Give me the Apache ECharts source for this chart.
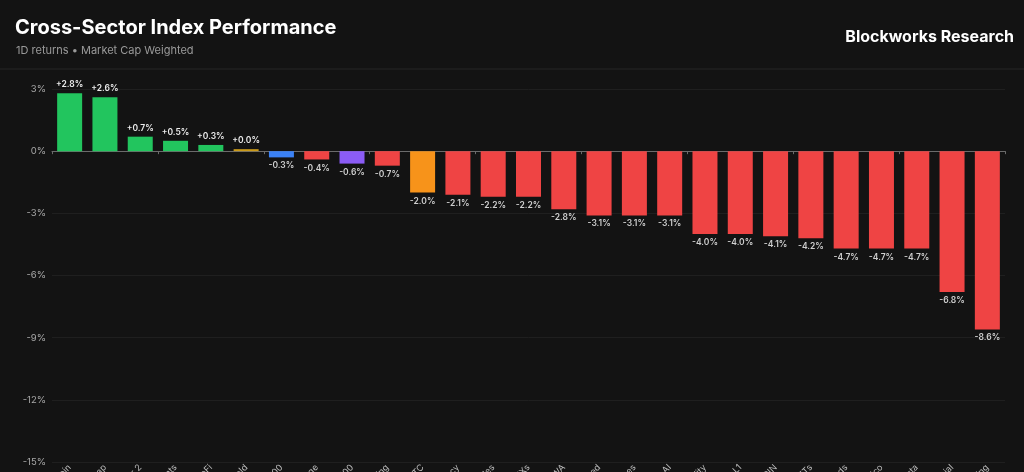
<!DOCTYPE html>
<html>
<head>
<meta charset="utf-8">
<script src="https://cdn.jsdelivr.net/npm/echarts@6/dist/echarts.min.js"></script>
<style>
html,body{margin:0;padding:0;background:#131313;}
#c{width:1024px;height:472px;}
</style>
</head>
<body>
<div id="c"></div>
<script>
const categories = ["Privacy Coin","Large Cap","Layer 2","Payments","DeFi","Gold","S&P 500","Storage","Nasdaq 100","Liquid Staking","BTC","Privacy","Oracles","DEXs","RWA","Restaked","Memes","AI","Interoperability","Alt L1","DePIN","NFTs","Launchpads","Solana Eco","Data","Social","Gaming"];
const values = [2.8,2.6,0.7,0.5,0.3,0.04,-0.3,-0.4,-0.6,-0.7,-2.0,-2.1,-2.2,-2.2,-2.8,-3.1,-3.1,-3.1,-4.0,-4.0,-4.1,-4.2,-4.7,-4.7,-4.7,-6.8,-8.6];
const barColors = ["#22c55e","#22c55e","#22c55e","#22c55e","#22c55e","#ca9a1a","#3b82f6","#ef4444","#8b5cf6","#ef4444","#f7931a","#ef4444","#ef4444","#ef4444","#ef4444","#ef4444","#ef4444","#ef4444","#ef4444","#ef4444","#ef4444","#ef4444","#ef4444","#ef4444","#ef4444","#ef4444","#ef4444"];
const yTicks = {min:-15, max:3, interval:3};

const chart = echarts.init(document.getElementById('c'), null, {renderer:'canvas'});
const fmt = v => (v >= 0 ? '+' : '') + v.toFixed(1) + '%';
chart.setOption({
  backgroundColor:'#131313',
  animation:false,
  title:[
    {text:'Cross-Sector Index Performance', left:10, top:13,
     textStyle:{color:'#ffffff', fontSize:20, fontWeight:'bold', fontFamily:'Inter'}},
    {text:'1D returns • Market Cap Weighted', left:11, top:40,
     textStyle:{color:'#9a9a9a', fontSize:11, fontWeight:'normal', fontFamily:'Inter'}},
    {text:'Blockworks Research', right:5, top:24,
     textStyle:{color:'#ffffff', fontSize:16, fontWeight:'bold', fontFamily:'Inter'}}
  ],
  graphic:[{type:'line', shape:{x1:0,y1:69,x2:1024,y2:69}, style:{stroke:'#262626', lineWidth:1}}],
  grid:{left:52, right:19, top:89, bottom:10, containLabel:false, outerBoundsMode:'none'},
  xAxis:[
    {type:'category', data:categories, position:'bottom',
     axisLine:{show:true, onZero:true, lineStyle:{color:'#6b6b6b', width:1}},
     axisTick:{show:true, length:3, lineStyle:{color:'#6b6b6b'}},
     axisLabel:{show:false}, splitLine:{show:false}},
    {type:'category', data:categories, position:'bottom',
     axisLine:{show:false, onZero:false}, axisTick:{show:false},
     axisLabel:{show:true, rotate:45, margin:4, color:'#bdbdbd', fontSize:9, fontFamily:'Inter', interval:0}}
  ],
  yAxis:{type:'value', min:yTicks.min, max:yTicks.max, interval:yTicks.interval,
    axisLine:{show:false}, axisTick:{show:false},
    axisLabel:{formatter:'{value}%', color:'#a8a8a8', fontSize:9.5, fontFamily:'Inter', margin:6},
    splitLine:{show:true, lineStyle:{color:'#1f1f1f', width:1}}},
  series:[{
    type:'bar', xAxisIndex:0, barWidth:25, barMinHeight:2,
    data:values.map((v,i)=>({value:v, itemStyle:{color:barColors[i]},
      label:{position: v>=0 ? 'top' : 'bottom', distance:4, color: v>=0 ? '#ececec' : '#cfcfcf'}})),
    label:{show:true, fontSize:8.5, fontWeight:600, fontFamily:'Inter',
      formatter:p=>fmt(p.value)}
  }]
});
</script>
</body>
</html>
